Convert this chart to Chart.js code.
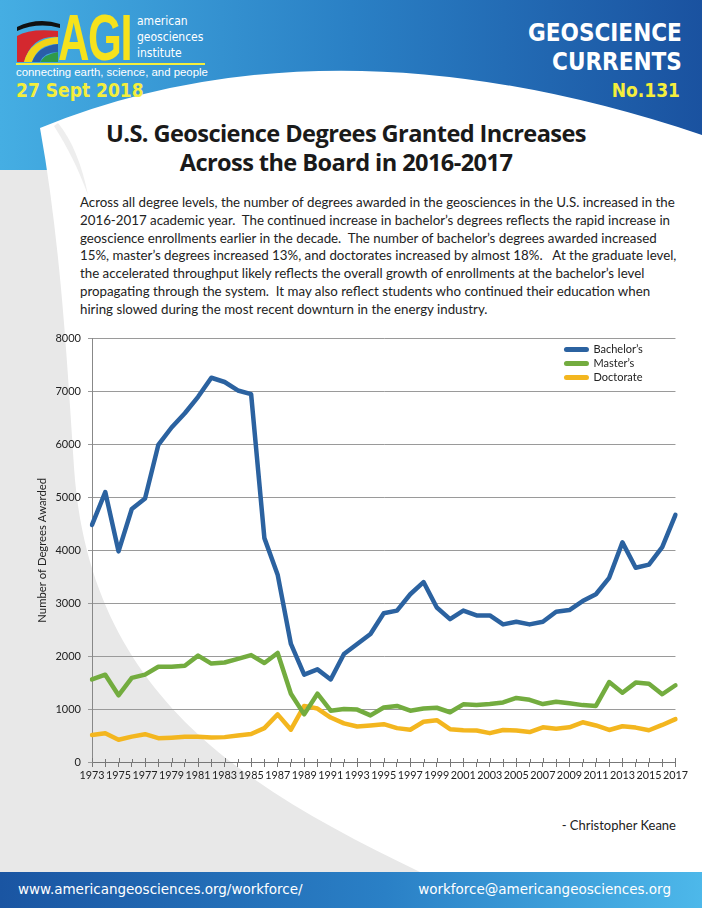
<!DOCTYPE html>
<html>
<head>
<meta charset="utf-8">
<script src="https://cdn.jsdelivr.net/npm/chart.js@4.4.0/dist/chart.umd.min.js"></script>
<style>
  body { margin: 0; width: 702px; height: 908px; position: relative; overflow: hidden; font-family: Lato, "Open Sans", sans-serif; }
  #bg { position: absolute; left: 0; top: 0; }
  .abs { position: absolute; white-space: nowrap; }
  .hdr { font-family: "DejaVu Sans", sans-serif; font-weight: bold; color: #fff; }
  .yel { color: #f4ee3c; font-family: "DejaVu Sans Condensed", "DejaVu Sans", sans-serif; font-weight: bold; }
  #title { left: 0; width: 692px; top: 119px; text-align: center; font-family: "Open Sans", sans-serif; font-weight: bold; font-size: 23.6px; line-height: 29px; color: #1a1a1a; letter-spacing: -0.6px; }
  #para { left: 80px; top: 194px; font-size: 13.3px; line-height: 17.8px; color: #222; }
  #wrap { position: absolute; left: 36px; top: 325px; width: 654px; height: 467px; }
  .foot { font-family: "DejaVu Sans", sans-serif; color: #fff; font-size: 13.5px; top: 881px; }
</style>
</head>
<body>
<svg id="bg" width="702" height="908">
  <defs>
    <linearGradient id="hg" x1="0" y1="0" x2="1" y2="0">
      <stop offset="0" stop-color="#45aee3"/>
      <stop offset="0.5" stop-color="#2a80c5"/>
      <stop offset="1" stop-color="#1a52a0"/>
    </linearGradient>
    <linearGradient id="fg" x1="0" y1="0" x2="1" y2="0">
      <stop offset="0" stop-color="#1a55a2"/>
      <stop offset="0.55" stop-color="#2a80c6"/>
      <stop offset="1" stop-color="#4db8ea"/>
    </linearGradient>
  </defs>
  <rect x="0" y="0" width="702" height="908" fill="#e8e8e8"/>
  <rect x="0" y="0" width="702" height="170" fill="url(#hg)"/>
  <path d="M 40,128 Q 330,10 702,135 L 702,872 L 420,872 C 250,790 95,700 75,480 C 68,380 62,250 40,128 Z" fill="#fff"/>
  <path d="M 58,123 C 72,140 82,165 88,195 C 78,168 68,148 54,126 Z" fill="#eeeeee"/>
  <rect x="0" y="872" width="702" height="36" fill="url(#fg)"/>
  <!-- logo -->
  <path d="M 17,27 Q 38,17 60,24 L 60,28 Q 38,22 17,31 Z" fill="#111"/>
  <path d="M 17,62 L 17,36 Q 30,28 58,31 L 58,37 Q 32,35 24,62 Z" fill="#d4282f"/>
  <path d="M 24,62 Q 30,39 58,37 L 58,44 Q 38,44 32,62 Z" fill="#f2d418"/>
  <path d="M 32,62 Q 38,46 58,44 L 58,52 Q 44,52 40,62 Z" fill="#2a5ea8"/>
  <path d="M 40,62 Q 45,54 58,52 L 58,62 Z" fill="#2f9a4a"/>
  <rect x="16" y="63" width="189" height="2" fill="#f4ee3c"/>
</svg>

<div class="abs" style="left:58px; top:3px; font-family:'Liberation Sans',sans-serif; font-weight:bold; font-size:64px; line-height:70px; color:#f6e21c; letter-spacing:-2px; transform:scaleX(0.68); transform-origin:left top;">AGI</div>
<div class="abs" style="left:137px; top:13px; font-family:'DejaVu Sans Condensed','DejaVu Sans',sans-serif; font-size:12px; line-height:16px; color:#fff;">american<br>geosciences<br>institute</div>
<div class="abs" style="left:16px; top:66px; font-family:'Liberation Sans Narrow',sans-serif; font-size:11.4px; color:#fff;">connecting earth, science, and people</div>
<div class="abs yel" style="left:16px; top:79px; font-size:19px;">27 Sept 2018</div>
<div class="abs hdr" style="right:20px; top:19px; font-size:24px; line-height:29px; text-align:right; transform:scaleX(0.9); transform-origin:right top;">GEOSCIENCE<br>CURRENTS</div>
<div class="abs yel" style="right:22px; top:79px; font-size:19px;">No.131</div>

<div id="title" class="abs">U.S. Geoscience Degrees Granted Increases<br>Across the Board in 2016-2017</div>
<div id="para" class="abs">
<div>Across all degree levels, the number of degrees awarded in the geosciences in the U.S. increased in the</div>
<div>2016-2017 academic year.&nbsp; The continued increase in bachelor’s degrees reflects the rapid increase in</div>
<div>geoscience enrollments earlier in the decade.&nbsp; The number of bachelor’s degrees awarded increased</div>
<div>15%, master’s degrees increased 13%, and doctorates increased by almost 18%.&nbsp;&nbsp; At the graduate level,</div>
<div>the accelerated throughput likely reflects the overall growth of enrollments at the bachelor’s level</div>
<div>propagating through the system.&nbsp; It may also reflect students who continued their education when</div>
<div>hiring slowed during the most recent downturn in the energy industry.</div>
</div>

<div id="wrap"><canvas id="myChart"></canvas></div>

<div class="abs" style="right:26px; top:817px; font-size:13px; color:#222;">- Christopher Keane</div>
<div class="abs foot" style="left:18px;">www.americangeosciences.org/workforce/</div>
<div class="abs foot" style="right:31px;">workforce@americangeosciences.org</div>

<script>
var YEARS = [];
for (var y = 1973; y <= 2017; y++) YEARS.push(String(y));

var BACHELORS = [4480, 5100, 3980, 4780, 4980, 5990, 6320, 6590, 6900, 7260, 7180, 7020, 6950,
  4230, 3540, 2230, 1650, 1750, 1560, 2040, 2230, 2420, 2810, 2860, 3170, 3400, 2920, 2700,
  2860, 2770, 2770, 2600, 2650, 2600, 2650, 2840, 2870, 3040, 3170, 3480, 4150, 3670, 3730, 4060, 4670];
var MASTERS = [1560, 1650, 1260, 1590, 1650, 1800, 1800, 1820, 2010, 1860, 1880, 1950, 2020,
  1870, 2060, 1290, 900, 1290, 970, 1000, 990, 880, 1030, 1060, 970, 1010, 1025, 940,
  1090, 1075, 1095, 1125, 1210, 1175, 1095, 1140, 1110, 1075, 1060, 1510, 1310, 1500, 1480, 1280, 1450];
var DOCTORATE = [510, 545, 420, 480, 525, 450, 460, 475, 475, 465, 470, 500, 530,
  640, 900, 610, 1060, 1010, 840, 730, 670, 690, 715, 640, 610, 760, 790, 620,
  600, 595, 545, 605, 595, 565, 655, 630, 655, 750, 690, 605, 675, 650, 600, 700, 810];
var SERIES_NAMES = ['Bachelor\u2019s', 'Master\u2019s', 'Doctorate'];
var COLORS = ['#2b62a0', '#73ac3f', '#f3b61f'];
var Y_TICKS = [0, 1000, 2000, 3000, 4000, 5000, 6000, 7000, 8000];

Chart.defaults.font.family = 'Lato, "Open Sans", sans-serif';
Chart.defaults.color = '#222';

// legend sits inside the plot, top right
var insideLegend = {
  id: 'insideLegend',
  afterDraw: function(chart) {
    var ctx = chart.ctx, a = chart.chartArea;
    var x0 = a.right - 109, y0 = a.top + 11;
    ctx.save();
    ctx.font = '11px Lato, sans-serif';
    ctx.textBaseline = 'middle';
    chart.data.datasets.forEach(function(ds, i) {
      var yy = y0 + i * 14;
      ctx.strokeStyle = ds.borderColor;
      ctx.lineWidth = 5;
      ctx.lineCap = 'round';
      ctx.beginPath();
      ctx.moveTo(x0, yy);
      ctx.lineTo(x0 + 20, yy);
      ctx.stroke();
      ctx.fillStyle = '#222';
      ctx.fillText(ds.label, x0 + 27, yy);
    });
    ctx.restore();
  }
};

// small tick marks above the x axis too
var upTicks = {
  id: 'upTicks',
  afterDraw: function(chart) {
    var ctx = chart.ctx, xs = chart.scales.x, a = chart.chartArea;
    ctx.save();
    ctx.strokeStyle = '#777';
    ctx.lineWidth = 1;
    xs.ticks.forEach(function(t, i) {
      var px = Math.round(xs.getPixelForTick(i)) + 0.5;
      ctx.beginPath();
      ctx.moveTo(px, a.bottom);
      ctx.lineTo(px, a.bottom - (i % 2 === 0 ? 4 : 3));
      ctx.stroke();
    });
    ctx.restore();
  }
};

function mkSet(label, data, color) {
  return {
    label: label,
    data: data,
    borderColor: color,
    backgroundColor: color,
    borderWidth: 4.5,
    pointRadius: 0,
    tension: 0,
    borderJoinStyle: 'round',
    borderCapStyle: 'round',
    fill: false
  };
}

var CHART = document.getElementById('myChart');
var myChart = new Chart(CHART, {
  type: 'line',
  data: {
    labels: YEARS,
    datasets: [
      mkSet(SERIES_NAMES[0], BACHELORS, COLORS[0]),
      mkSet(SERIES_NAMES[1], MASTERS, COLORS[1]),
      mkSet(SERIES_NAMES[2], DOCTORATE, COLORS[2])
    ]
  },
  options: {
    responsive: true,
    maintainAspectRatio: false,
    animation: false,
    layout: { padding: { top: 10, right: 14, bottom: 0, left: 0 } },
    plugins: { legend: { display: false }, tooltip: { enabled: false } },
    scales: {
      x: {
        offset: false,
        afterFit: function(s) { s.height = 30; },
        grid: { drawOnChartArea: false, tickLength: 5, color: '#777' },
        border: { color: '#777' },
        ticks: {
          autoSkip: false, maxRotation: 0, minRotation: 0, padding: 2,
          font: { size: 10.8 },
          callback: function(v, i) { return i % 2 === 0 ? this.getLabelForValue(v) : ''; }
        }
      },
      y: {
        min: Y_TICKS[0], max: Y_TICKS[Y_TICKS.length - 1],
        afterFit: function(s) { s.width = 56; },
        afterBuildTicks: function(s) { s.ticks = Y_TICKS.map(function(v) { return { value: v }; }); },
        grid: { color: '#9a9a9a', tickLength: 4 },
        border: { color: '#888' },
        ticks: { font: { size: 11 }, padding: 7, callback: function(v) { return String(v); } },
        title: { display: true, text: 'Number of Degrees Awarded', font: { size: 11.3 }, padding: 0 }
      }
    }
  },
  plugins: [insideLegend, upTicks]
});
</script>
</body>
</html>
